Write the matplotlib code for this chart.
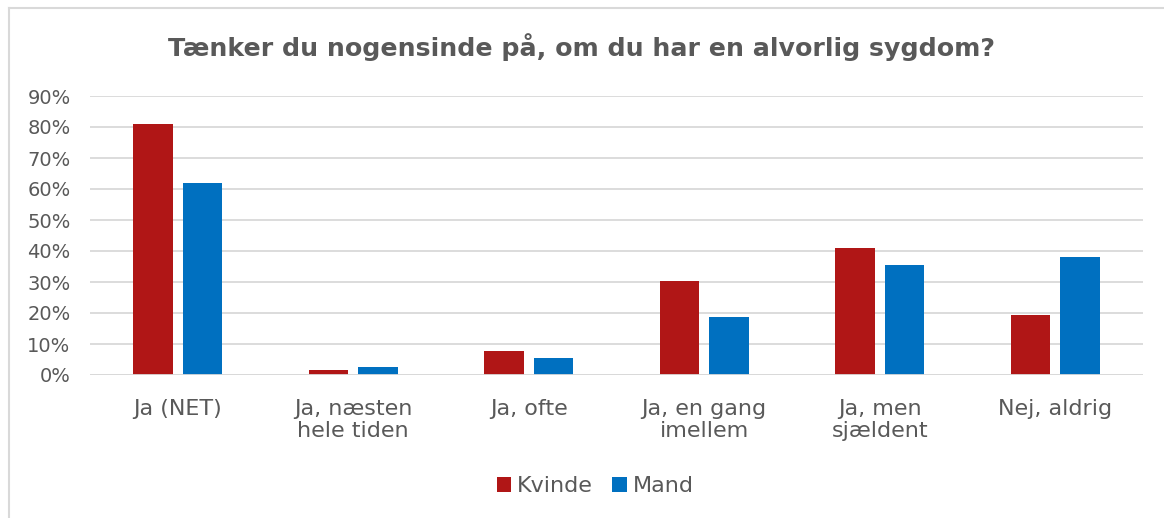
import matplotlib
matplotlib.use("Agg")
import matplotlib.pyplot as plt
from matplotlib.patches import Patch
from matplotlib.lines import Line2D
import numpy as np

categories = ["Ja (NET)", "Ja, næsten\nhele tiden", "Ja, ofte", "Ja, en gang\nimellem", "Ja, men\nsjældent", "Nej, aldrig"]
kvinde = [0.81, 0.016, 0.078, 0.303, 0.41, 0.194]
mand = [0.62, 0.025, 0.054, 0.187, 0.354, 0.381]
series_names = ["Kvinde", "Mand"]
yticks = [0, 0.1, 0.2, 0.3, 0.4, 0.5, 0.6, 0.7, 0.8, 0.9]
ytick_labels = ["0%", "10%", "20%", "30%", "40%", "50%", "60%", "70%", "80%", "90%"]
title = "Tænker du nogensinde på, om du har en alvorlig sygdom?"

RED = "#B01616"
BLUE = "#0070C0"
GRAY = "#595959"
GRID = "#D9D9D9"

plt.rcParams['font.family'] = ['DejaVu Sans']

fig = plt.figure(figsize=(11.64, 5.18), dpi=100)
W, H = 1164, 518
ax = fig.add_axes([90 / W, 1 - 375 / H, (1143 - 90) / W, (375 - 96) / H])

x = np.arange(len(categories))
bw = 0.225
off = 0.142
ax.bar(x - off, kvinde, width=bw, color=RED, label=series_names[0], zorder=3)
ax.bar(x + off, mand, width=bw, color=BLUE, label=series_names[1], zorder=3)

ax.set_xlim(-0.5, len(categories) - 0.5)
ax.set_ylim(0, 0.9)
ax.set_yticks(yticks)
ax.set_yticklabels(ytick_labels, fontsize=14, color=GRAY)
ax.set_xticks(x)
ax.set_xticklabels(categories, fontsize=16, color=GRAY, linespacing=1.15)
ax.tick_params(axis='y', length=0, pad=14)
ax.tick_params(axis='x', length=0, pad=17)
ax.grid(axis='y', color=GRID, linewidth=1.3, zorder=0)
for s in ax.spines.values():
    s.set_visible(False)
ax.axhline(0, color=GRID, linewidth=1.3, zorder=4)

fig.text(0.5, 1 - 47 / H, title, ha='center', va='center', fontsize=18.2,
         fontweight='bold', color=GRAY)

handles = [Patch(facecolor=RED, edgecolor='none'), Patch(facecolor=BLUE, edgecolor='none')]
fig.legend(handles, series_names, loc='center', bbox_to_anchor=(595 / W, 1 - 486 / H),
           ncol=2, frameon=False, fontsize=16, labelcolor=GRAY,
           handlelength=0.65, handleheight=0.65, handletextpad=0.25, columnspacing=0.9)

# chart border
fig.add_artist(Line2D([9 / W, 9 / W], [0, 1 - 8 / H], transform=fig.transFigure, color=GRID, linewidth=1.5))
fig.add_artist(Line2D([9 / W, 1], [1 - 8 / H, 1 - 8 / H], transform=fig.transFigure, color=GRID, linewidth=1.5))

fig.savefig("out.png", dpi=100, facecolor='white')
